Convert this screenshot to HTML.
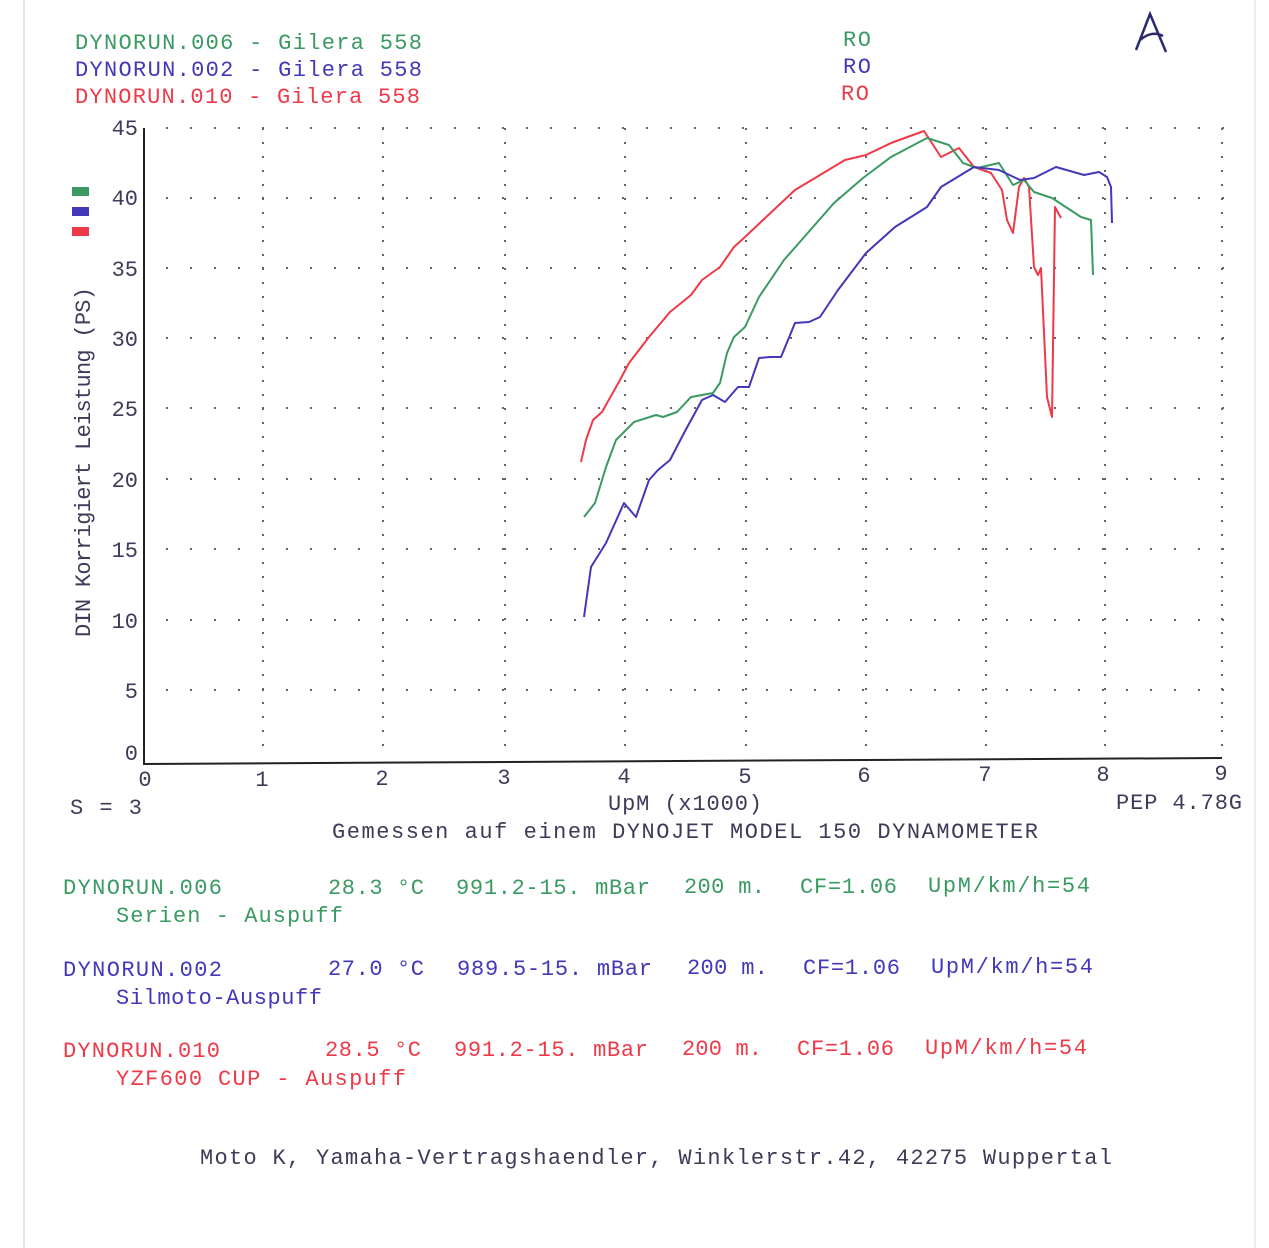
<!DOCTYPE html>
<html><head><meta charset="utf-8"><style>
html,body{margin:0;padding:0;background:#fff;}
svg{display:block;}
text{font-family:"Liberation Mono",monospace;font-size:22px;}
.k{fill:#3c3c58}.g{fill:#3a9a62}.b{fill:#4238b8}.r{fill:#ee3a48}
</style></head><body>
<svg width="1269" height="1248" viewBox="0 0 1269 1248" xmlns="http://www.w3.org/2000/svg">
<rect width="1269" height="1248" fill="#fff"/>
<line x1="24" y1="0" x2="24" y2="1248" stroke="#e4e4e8" stroke-width="2"/>
<line x1="1255" y1="0" x2="1255" y2="1248" stroke="#ececf0" stroke-width="2"/>
<text class="g" x="75" y="49" textLength="347" lengthAdjust="spacing">DYNORUN.006 - Gilera 558</text>
<text class="b" x="75" y="76" textLength="347" lengthAdjust="spacing">DYNORUN.002 - Gilera 558</text>
<text class="r" x="75" y="103" textLength="345" lengthAdjust="spacing">DYNORUN.010 - Gilera 558</text>
<text class="g" x="843" y="46" textLength="28" lengthAdjust="spacing">RO</text>
<text class="b" x="843" y="73" textLength="28" lengthAdjust="spacing">RO</text>
<text class="r" x="841" y="100" textLength="28" lengthAdjust="spacing">RO</text>
<path d="M1136 50 L1150 14 L1166 52 M1140 40 Q1152 30 1163 36" stroke="#2a2a70" stroke-width="2.5" fill="none"/>
<rect x="72" y="187" width="17" height="9" fill="#3a9a62"/>
<rect x="72" y="207" width="17" height="9" fill="#4238b8"/>
<rect x="72" y="227" width="17" height="9" fill="#ee3a48"/>
<g stroke="#666" stroke-width="2" stroke-dasharray="2 22" fill="none">
<line x1="166" y1="128" x2="1225" y2="128"/>
<line x1="166" y1="198" x2="1225" y2="198"/>
<line x1="166" y1="268" x2="1225" y2="268"/>
<line x1="166" y1="338" x2="1225" y2="338"/>
<line x1="166" y1="408" x2="1225" y2="408"/>
<line x1="166" y1="479" x2="1225" y2="479"/>
<line x1="166" y1="549" x2="1225" y2="549"/>
<line x1="166" y1="620" x2="1225" y2="620"/>
<line x1="166" y1="690" x2="1225" y2="690"/>
</g>
<g stroke="#666" stroke-width="2" stroke-dasharray="2 12" fill="none">
<line x1="263" y1="128" x2="263" y2="758"/>
<line x1="383" y1="128" x2="383" y2="758"/>
<line x1="505" y1="128" x2="505" y2="758"/>
<line x1="625" y1="128" x2="625" y2="758"/>
<line x1="746" y1="128" x2="746" y2="758"/>
<line x1="866" y1="128" x2="866" y2="758"/>
<line x1="986" y1="128" x2="986" y2="758"/>
<line x1="1105" y1="128" x2="1105" y2="758"/>
<line x1="1222" y1="128" x2="1222" y2="758"/>
</g>
<line x1="144" y1="128" x2="144" y2="765" stroke="#222" stroke-width="2"/>
<line x1="144" y1="764" x2="1222" y2="758" stroke="#222" stroke-width="2"/>
<g class="k" text-anchor="end">
<text x="138" y="135">45</text><text x="138" y="205">40</text><text x="138" y="276">35</text>
<text x="138" y="346">30</text><text x="138" y="416">25</text><text x="138" y="487">20</text>
<text x="138" y="557">15</text><text x="138" y="628">10</text><text x="138" y="698">5</text>
<text x="138" y="760">0</text>
</g>
<g class="k" text-anchor="middle">
<text x="145" y="786">0</text><text x="262" y="786">1</text><text x="382" y="785">2</text>
<text x="504" y="784">3</text><text x="624" y="783">4</text><text x="745" y="783">5</text>
<text x="864" y="782">6</text><text x="985" y="781">7</text><text x="1103" y="781">8</text>
<text x="1221" y="780">9</text>
</g>
<text class="k" transform="translate(90,637) rotate(-90)" textLength="350" lengthAdjust="spacing">DIN Korrigiert Leistung (PS)</text>
<text class="k" x="70" y="814" textLength="72" lengthAdjust="spacing">S = 3</text>
<text class="k" x="608" y="810" textLength="154" lengthAdjust="spacing">UpM (x1000)</text>
<text class="k" x="1116" y="809" textLength="126" lengthAdjust="spacing">PEP 4.78G</text>
<text class="k" x="332" y="838" textLength="706" lengthAdjust="spacing">Gemessen auf einem DYNOJET MODEL 150 DYNAMOMETER</text>
<g fill="none" stroke-width="2" stroke-linejoin="round">
<polyline stroke="#ee3a48" points="581,462 586,440 593,420 602,412 620,380 629,363 649,337 670,312 691,295 702,280 720,267 734,247 745,237 763,220 795,190 845,160 866,155 891,143 924,131 941,157 959,148 974,167 991,173 1002,190 1007,220 1013,233 1019,187 1024,178 1029,187 1034,267 1038,275 1041,268 1047,397 1052,417 1055,207 1061,218"/>
<polyline stroke="#3a9a62" points="584,517 595,503 606,467 616,440 634,422 656,415 663,417 677,412 691,397 713,393 720,383 727,353 734,337 745,327 759,297 784,260 813,227 834,203 863,178 891,157 927,138 949,145 963,163 977,168 999,163 1013,185 1024,180 1034,192 1052,198 1081,217 1091,220 1093,275"/>
<polyline stroke="#4238b8" points="584,617 591,567 606,543 624,503 636,517 649,480 658,470 670,460 684,433 702,400 713,395 725,402 738,387 749,387 759,358 770,357 781,357 795,323 809,322 820,317 838,290 866,253 895,227 927,207 941,187 974,167 999,170 1020,180 1034,178 1056,167 1084,175 1099,172 1107,177 1111,187 1112,223"/>
</g>
<text class="g" x="63" y="894" textLength="159" lengthAdjust="spacing">DYNORUN.006</text>
<text class="g" x="328" y="894" textLength="96" lengthAdjust="spacing">28.3 °C</text>
<text class="g" x="456" y="894" textLength="194" lengthAdjust="spacing">991.2-15. mBar</text>
<text class="g" x="684" y="893" textLength="81" lengthAdjust="spacing">200 m.</text>
<text class="g" x="800" y="893" textLength="97" lengthAdjust="spacing">CF=1.06</text>
<text class="g" x="928" y="892" textLength="162" lengthAdjust="spacing">UpM/km/h=54</text>
<text class="g" x="116" y="922" textLength="227" lengthAdjust="spacing">Serien - Auspuff</text>
<text class="b" x="63" y="976" textLength="159" lengthAdjust="spacing">DYNORUN.002</text>
<text class="b" x="328" y="975" textLength="96" lengthAdjust="spacing">27.0 °C</text>
<text class="b" x="457" y="975" textLength="195" lengthAdjust="spacing">989.5-15. mBar</text>
<text class="b" x="687" y="974" textLength="81" lengthAdjust="spacing">200 m.</text>
<text class="b" x="803" y="974" textLength="97" lengthAdjust="spacing">CF=1.06</text>
<text class="b" x="931" y="973" textLength="162" lengthAdjust="spacing">UpM/km/h=54</text>
<text class="b" x="116" y="1004" textLength="206" lengthAdjust="spacing">Silmoto-Auspuff</text>
<text class="r" x="63" y="1057" textLength="157" lengthAdjust="spacing">DYNORUN.010</text>
<text class="r" x="325" y="1056" textLength="96" lengthAdjust="spacing">28.5 °C</text>
<text class="r" x="454" y="1056" textLength="194" lengthAdjust="spacing">991.2-15. mBar</text>
<text class="r" x="682" y="1055" textLength="80" lengthAdjust="spacing">200 m.</text>
<text class="r" x="797" y="1055" textLength="97" lengthAdjust="spacing">CF=1.06</text>
<text class="r" x="925" y="1054" textLength="162" lengthAdjust="spacing">UpM/km/h=54</text>
<text class="r" x="116" y="1085" textLength="290" lengthAdjust="spacing">YZF600 CUP - Auspuff</text>
<text class="k" x="200" y="1164" textLength="912" lengthAdjust="spacing">Moto K, Yamaha-Vertragshaendler, Winklerstr.42, 42275 Wuppertal</text>
</svg>
</body></html>
